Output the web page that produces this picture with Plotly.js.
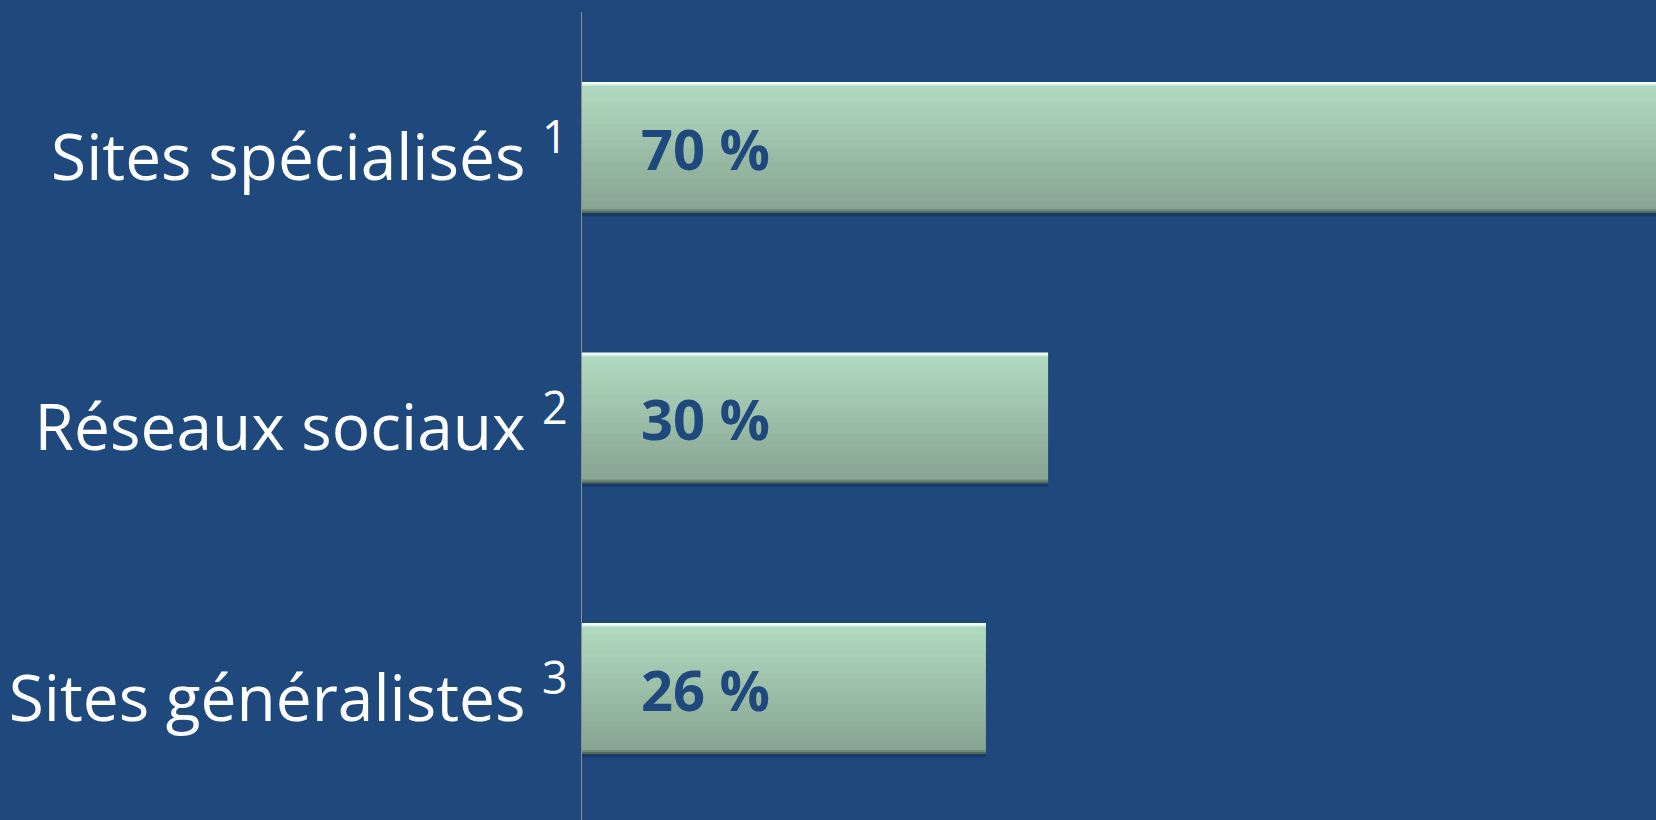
<!DOCTYPE html>
<html>
<head>
<meta charset="utf-8">
<script src="https://cdn.plot.ly/plotly-3.0.1.min.js"></script>
<style>
  html, body { margin: 0; padding: 0; background: #1f497d; }
  #chart { width: 1656px; height: 820px; }
</style>
</head>
<body>
<div id="chart"></div>
<script>
// ---- data ----
const categories = ['Sites spécialisés', 'Réseaux sociaux', 'Sites généralistes'];
const footnotes = ['1', '2', '3'];
const values = [70, 30, 26];
const valueLabels = values.map(v => v + ' %');
const tickLabels = categories.map((c, i) => c + ' <sup>' + footnotes[i] + '</sup>');

// ---- styling of the bevelled gradient bars ----
const BAR_W = 0.484;
const BG = '#1f497d';
function lerp(a, b, t) { return Math.round(a + (b - a) * t); }
function mix(c1, c2, t) {
  const p = c => [parseInt(c.slice(1,3),16), parseInt(c.slice(3,5),16), parseInt(c.slice(5,7),16)];
  const a = p(c1), b = p(c2);
  return 'rgb(' + lerp(a[0],b[0],t) + ',' + lerp(a[1],b[1],t) + ',' + lerp(a[2],b[2],t) + ')';
}
// strips from top to bottom: [fraction of bar height, color]
const strips = [];
strips.push([0.014, '#f4fff9']);
strips.push([0.014, '#d6efe0']);
const N = 16;
const bodyFrac = 1 - 0.028 - 0.03;
for (let i = 0; i < N; i++) {
  strips.push([bodyFrac / N, mix('#b0d8bf', '#88a693', i / (N - 1))]);
}
strips.push([0.015, '#6f8a78']);
strips.push([0.015, '#556b5c']);

const traces = [];
let off = -BAR_W / 2;
strips.forEach(([frac, col]) => {
  const w = frac * BAR_W;
  traces.push({
    type: 'bar', orientation: 'h',
    x: values, y: categories,
    width: categories.map(() => w + 0.005),
    offset: categories.map(() => off),
    marker: { color: col, line: { width: 0 } },
    hoverinfo: 'skip', showlegend: false
  });
  off += w;
});
// soft shadow beneath the bars
traces.push({
  type: 'bar', orientation: 'h',
  x: values, y: categories,
  width: categories.map(() => 0.012),
  offset: categories.map(() => BAR_W / 2),
  marker: { color: '#18396a', line: { width: 0 } },
  hoverinfo: 'skip', showlegend: false
});

const annotations = categories.map((c, i) => ({
  x: 0, y: c, xref: 'x', yref: 'y',
  text: valueLabels[i],
  showarrow: false, xanchor: 'left', yanchor: 'middle',
  xshift: 57, yshift: 0,
  font: { family: 'Open Sans, sans-serif', size: 56, color: '#1f497d', weight: 'bold' }
}));

const layout = {
  width: 1656, height: 820,
  paper_bgcolor: BG, plot_bgcolor: BG,
  margin: { l: 582, r: 0, t: 12, b: 0, pad: 0 },
  barmode: 'overlay',
  showlegend: false,
  xaxis: {
    range: [0, 69.13], visible: false, fixedrange: true
  },
  yaxis: {
    type: 'category',
    range: [2.486, -0.501],
    tickvals: categories, ticktext: tickLabels,
    showline: true, linecolor: '#8d8d8d', linewidth: 1.5,
    showgrid: false, zeroline: false,
    ticks: 'outside', ticklen: 0, tickcolor: 'rgba(0,0,0,0)',
    ticklabelstandoff: 0,
    ticklabelshift: -10,
    tickfont: { family: 'Open Sans, sans-serif', size: 64, color: '#ffffff' }
  },
  annotations: annotations
};

Plotly.newPlot('chart', traces, layout, { staticPlot: true, displayModeBar: false });
</script>
</body>
</html>
